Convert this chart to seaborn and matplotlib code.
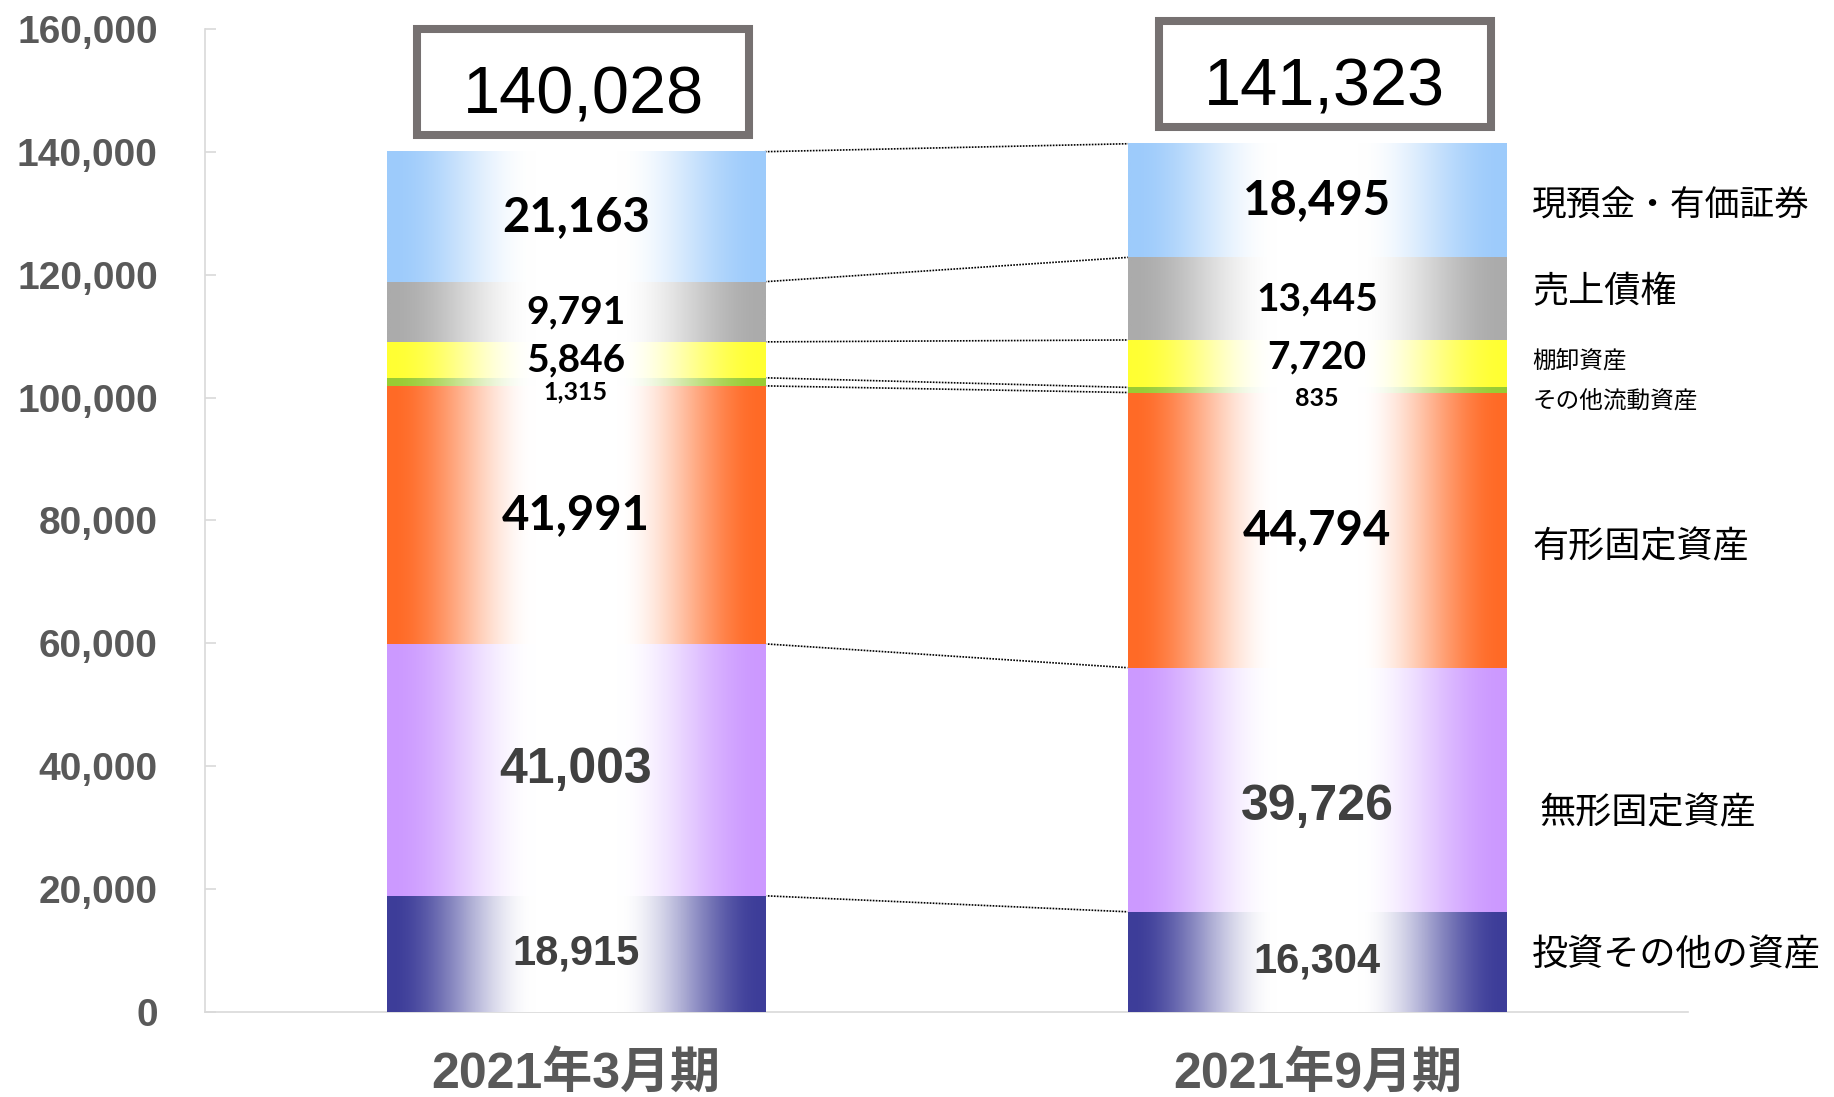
import numpy as np
import pandas as pd
import matplotlib
matplotlib.use("Agg")
import matplotlib.pyplot as plt
from matplotlib.patches import Rectangle
from matplotlib import font_manager
from matplotlib.colors import to_rgb
import seaborn as sns

# ---------------- data ----------------
categories = ["2021年3月期", "2021年9月期"]
segments = ["投資その他の資産", "無形固定資産", "有形固定資産", "その他流動資産",
            "棚卸資産", "売上債権", "現預金・有価証券"]
values_mar = [18915, 41003, 41991, 1315, 5846, 9791, 21163]
values_sep = [16304, 39726, 44794, 835, 7720, 13445, 18495]
totals = [140028, 141323]
yticks = [0, 20000, 40000, 60000, 80000, 100000, 120000, 140000, 160000]

# ---------------- style ----------------
seg_colors = ["#3D3D99", "#CC99FF", "#FF6A26", "#99CC33", "#FFFF33", "#ABABAB", "#9DCBFB"]
lab_sizes = [30, 36, 34, 18, 28, 28, 34]
lab_colors = ["#404040", "#404040", "black", "black", "black", "black", "black"]
side_sizes = [26, 26, 26, 17, 17, 26, 25]

sns.set_theme(style="white")
avail = {f.name for f in font_manager.fontManager.ttflist}
def pick(*names):
    for n in names:
        if n in avail:
            return n
    return "DejaVu Sans"
ARIAL = pick("Liberation Sans", "Arimo", "DejaVu Sans")
NARROW = pick("Liberation Sans Narrow", "Liberation Sans", "DejaVu Sans")
CALIBRI = pick("Lato", "Open Sans", "Noto Sans", "DejaVu Sans")
CJK = pick("Noto Sans CJK JP", "Noto Sans CJK SC")
plt.rcParams["font.family"] = [ARIAL, CJK]

fig = plt.figure(figsize=(18.34, 10.97), dpi=100)
ax = fig.add_axes([0.1118, 0.0775, 0.8086, 0.8961])

df = pd.DataFrame({"cat": np.repeat(categories, len(segments)),
                   "seg": segments * 2,
                   "val": values_mar + values_sep})
df["cum"] = df.groupby("cat", sort=False)["val"].cumsum()
df["low"] = df["cum"] - df["val"]

bar_w = 0.51
# overlapping cumulative bars, drawn from top layer to bottom layer
for i in range(len(segments) - 1, -1, -1):
    sub = df[df["seg"] == segments[i]]
    sns.barplot(data=sub, x="cat", y="cum", order=categories, color=seg_colors[i],
                saturation=1, width=bar_w, ax=ax, errorbar=None, zorder=2)

# gradient fill per segment (color at edges -> white in middle)
N = 512
f = np.linspace(0, 1, N)
t = np.abs(f - 0.5) * 2
a = np.clip((t - 0.22) / 0.76, 0, 1)
a = a * a * (3 - 2 * a)

# small layout nudges for in-bar labels: (category index, segment index) -> dy
label_nudge = {(1, 1): -2800, (1, 4): 1100}
for ci, cat in enumerate(categories):
    sub = df[df["cat"] == cat].reset_index(drop=True)
    x0, x1 = ci - bar_w / 2, ci + bar_w / 2
    for i, row in sub.iterrows():
        c = np.array(to_rgb(seg_colors[i]))
        img = 1 - a[:, None] * (1 - c[None, :])
        ax.imshow(img[None, :, :], extent=[x0, x1, row["low"], row["cum"]],
                  aspect="auto", interpolation="bilinear", zorder=3)
        if i == 3:
            ly = row["low"] - 1000
        else:
            ly = (row["low"] + row["cum"]) / 2
        ly += label_nudge.get((ci, i), 0)
        fam = CALIBRI if lab_colors[i] == "black" else ARIAL
        ax.text(ci, ly, f"{int(row['val']):,}", ha="center", va="center",
                fontsize=lab_sizes[i], fontweight="bold", color=lab_colors[i],
                family=fam, zorder=6)

# connector dotted lines
left = df[df["cat"] == categories[0]].reset_index(drop=True)
right = df[df["cat"] == categories[1]].reset_index(drop=True)
for i in range(len(segments)):
    ax.plot([0 + bar_w / 2, 1 - bar_w / 2], [left.loc[i, "cum"], right.loc[i, "cum"]],
            color="black", lw=1.2, ls=(0, (1, 0.8)), zorder=1)

# total boxes
for ci, tot in enumerate(totals):
    cx = ci + 0.01
    rect = Rectangle((cx - 0.224, tot + 2700), 0.448, 17300, facecolor="white",
                     edgecolor="#767171", lw=5.8, clip_on=False, zorder=5)
    ax.add_patch(rect)
    ax.text(cx, tot + 6200, f"{tot:,}", ha="center", va="baseline",
            fontsize=48, family=NARROW, color="black", zorder=6, clip_on=False)

# side labels (aligned with second bar)
side_dy = [1000, -3800, -2800, -1800, 400, 1000, -900]
side_x = [1.29, 1.30, 1.29, 1.29, 1.29, 1.29, 1.29]
for i, name in enumerate(segments):
    y = (right.loc[i, "low"] + right.loc[i, "cum"]) / 2 + side_dy[i]
    ax.text(side_x[i], y, name, ha="left", va="center", fontsize=side_sizes[i],
            family=[CJK], color="black", zorder=6)

# axes styling
ax.set_xlim(-0.5, 1.5)
ax.set_ylim(0, 160000)
ax.set_yticks(yticks)
ax.set_yticklabels([f"{v:,}" for v in yticks], fontsize=28, fontweight="bold",
                   color="#595959", family=ARIAL)
ax.set_xticks(range(len(categories)))
ax.set_xticklabels(categories, fontsize=36, fontweight="bold", color="#595959",
                   family=[ARIAL, CJK])
ax.set_xticks([-0.5, 0.5, 1.5], minor=True)
ax.tick_params(axis="x", which="major", length=0, pad=28)
ax.tick_params(axis="x", which="minor", length=10, width=1.2, color="#D9D9D9", direction="out")
ax.tick_params(axis="y", length=8, width=1.2, color="#D9D9D9", direction="in", pad=34, left=True)
ax.set_xlabel("")
ax.set_ylabel("")
for s in ["top", "right"]:
    ax.spines[s].set_visible(False)
for s in ["left", "bottom"]:
    ax.spines[s].set_color("#D9D9D9")
    ax.spines[s].set_linewidth(1.2)
ax.grid(False)
ax.set_facecolor("white")
fig.patch.set_facecolor("white")

fig.savefig("out.png", dpi=100, facecolor="white")
